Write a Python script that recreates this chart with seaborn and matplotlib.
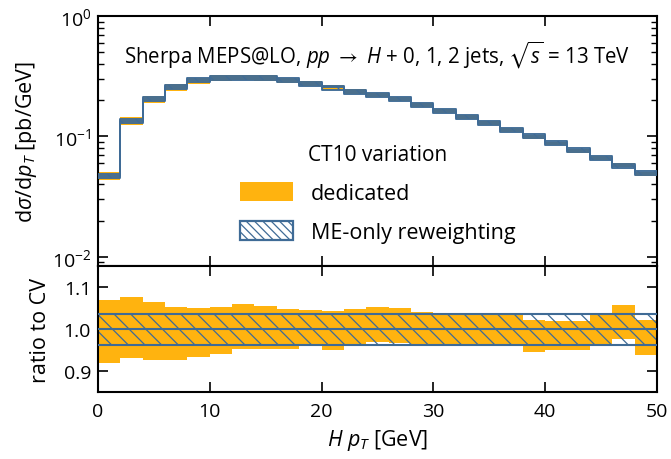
import matplotlib
matplotlib.use('Agg')
import matplotlib.pyplot as plt
import seaborn as sns
from matplotlib.patches import Patch
from matplotlib.ticker import LogLocator, NullFormatter, FixedLocator, NullLocator

# ---------------- data ----------------
bin_edges = [0, 2, 4, 6, 8, 10, 12, 14, 16, 18, 20, 22, 24, 26, 28, 30,
             32, 34, 36, 38, 40, 42, 44, 46, 48, 50]

central_xs = [0.047, 0.134, 0.204, 0.259, 0.293, 0.308, 0.308, 0.305, 0.293,
              0.275, 0.255, 0.236, 0.220, 0.204, 0.182, 0.163, 0.146, 0.130,
              0.113, 0.101, 0.0886, 0.0769, 0.0664, 0.0573, 0.0498]

dedicated_up = [1.068, 1.075, 1.065, 1.052, 1.050, 1.053, 1.059, 1.054, 1.048,
                1.046, 1.042, 1.048, 1.052, 1.050, 1.040, 1.035, 1.034, 1.038,
                1.034, 1.022, 1.018, 1.018, 1.035, 1.057, 1.021]
dedicated_down = [0.920, 0.930, 0.927, 0.925, 0.934, 0.941, 0.953, 0.953, 0.952,
                  0.961, 0.951, 0.961, 0.969, 0.967, 0.962, 0.962, 0.962, 0.962,
                  0.962, 0.946, 0.951, 0.951, 0.962, 0.977, 0.939]

meonly_up = [1.036, 1.036, 1.036, 1.036, 1.036, 1.036, 1.036, 1.036, 1.036,
             1.036, 1.036, 1.036, 1.036, 1.036, 1.036, 1.036, 1.036, 1.036,
             1.036, 1.036, 1.036, 1.036, 1.036, 1.036, 1.036]
meonly_down = [0.962, 0.962, 0.962, 0.962, 0.962, 0.962, 0.962, 0.962, 0.962,
               0.962, 0.962, 0.962, 0.962, 0.962, 0.962, 0.962, 0.962, 0.962,
               0.962, 0.962, 0.962, 0.962, 0.962, 0.962, 0.962]

title_text = (r"Sherpa MEPS@LO, $pp$ $\rightarrow$ $H$ + 0, 1, 2 jets, "
              r"$\sqrt{s}$ = 13 TeV")
legend_title = "CT10 variation"
legend_labels = ["dedicated", "ME-only reweighting"]
ylabel_top = r"d$\sigma$/d$p_T$ [pb/GeV]"
ylabel_bottom = "ratio to CV"
xlabel = r"$H$ $p_T$ [GeV]"

ORANGE = "#FFB30F"
BLUE = "#3F6B96"

# ---------------- style ----------------
sns.set_style("ticks")
plt.rcParams.update({
    "font.family": ["Open Sans", "DejaVu Sans"],
    "mathtext.fontset": "custom",
    "mathtext.rm": "Open Sans",
    "mathtext.it": "Open Sans:italic",
    "mathtext.bf": "Open Sans:bold",
    "mathtext.fallback": "stix",
    "font.size": 15,
    "text.color": "black",
    "axes.labelcolor": "black",
    "xtick.labelcolor": "black",
    "ytick.labelcolor": "black",
    "xtick.direction": "in",
    "ytick.direction": "in",
    "xtick.top": True,
    "ytick.right": True,
    "xtick.major.size": 7,
    "ytick.major.size": 7,
    "xtick.minor.size": 4.5,
    "ytick.minor.size": 4.5,
    "xtick.major.width": 1.2,
    "ytick.major.width": 1.2,
    "ytick.minor.width": 1.0,
    "xtick.major.pad": 7,
    "ytick.major.pad": 5,
    "axes.linewidth": 1.5,
    "axes.edgecolor": "black",
    "xtick.color": "black",
    "ytick.color": "black",
    "xtick.labelsize": 14,
    "ytick.labelsize": 14,
    "hatch.linewidth": 0.9,
    "hatch.color": BLUE,
})

fig = plt.figure(figsize=(6.71, 4.60), dpi=100)
ax1 = fig.add_axes([0.146, 0.4196, 0.833, 0.5434])
ax2 = fig.add_axes([0.146, 0.1457, 0.833, 0.2739], sharex=ax1)


def ext(v):
    return list(v) + [v[-1]]


one = [1.0] * len(central_xs)

panels = [
    (ax1, central_xs, 1.35),
    (ax2, one, 1.5),
]
for ax, base, lw in panels:
    d_lo = [b * r for b, r in zip(base, dedicated_down)]
    d_hi = [b * r for b, r in zip(base, dedicated_up)]
    m_lo = [b * r for b, r in zip(base, meonly_down)]
    m_hi = [b * r for b, r in zip(base, meonly_up)]
    ax.fill_between(bin_edges, ext(d_lo), ext(d_hi), step="post",
                    facecolor=ORANGE, edgecolor="none", lw=0, zorder=1)
    ax.fill_between(bin_edges, ext(m_lo), ext(m_hi), step="post",
                    facecolor="none", edgecolor=BLUE, hatch="\\\\", lw=0,
                    zorder=2)
    for arr in (m_lo, m_hi, base):
        sns.lineplot(x=bin_edges, y=ext(arr), drawstyle="steps-post",
                     color=BLUE, lw=lw, ax=ax, estimator=None, sort=False,
                     zorder=3)

# top panel
ax1.set_yscale("log")
ax1.set_ylim(8.4e-3, 1.0)
ax1.set_xlim(0, 50)
ax1.yaxis.set_major_locator(LogLocator(base=10, numticks=10))
ax1.yaxis.set_minor_locator(LogLocator(base=10, subs=range(2, 10), numticks=20))
ax1.yaxis.set_minor_formatter(NullFormatter())
ax1.xaxis.set_major_locator(FixedLocator([0, 10, 20, 30, 40, 50]))
ax1.xaxis.set_minor_locator(NullLocator())
ax1.tick_params(axis="x", labelbottom=False)
ax1.set_xlabel("")
ax1.set_ylabel(ylabel_top, fontsize=15.5, labelpad=9)
ax1.text(0.5, 0.848, title_text, transform=ax1.transAxes, ha="center",
         va="center", fontsize=14.8)

handles = [
    Patch(facecolor=ORANGE, edgecolor="none", label=legend_labels[0]),
    Patch(facecolor="none", edgecolor=BLUE, hatch="\\\\\\\\", lw=1.6,
          label=legend_labels[1]),
]
leg = ax1.legend(handles=handles, title=legend_title, loc="center",
                 bbox_to_anchor=(0.5, 0.29), frameon=False, handlelength=2.5,
                 handleheight=1.0, labelspacing=0.8, handletextpad=0.8,
                 fontsize=15.5, title_fontsize=15)

# ratio panel
ax2.set_ylim(0.85, 1.15)
ax2.yaxis.set_major_locator(FixedLocator([0.9, 1.0, 1.1]))
ax2.yaxis.set_minor_locator(NullLocator())
ax2.set_yticklabels(["0.9", "1.0", "1.1"])
ax2.xaxis.set_major_locator(FixedLocator([0, 10, 20, 30, 40, 50]))
ax2.set_xticklabels(["0", "10", "20", "30", "40", "50"])
ax2.xaxis.set_minor_locator(NullLocator())
ax2.set_xlim(0, 50)
ax2.set_xlabel(xlabel, fontsize=15.5, labelpad=5)
ax2.set_ylabel(ylabel_bottom, fontsize=15.5, labelpad=9)

fig.align_ylabels([ax1, ax2])
fig.savefig("out.png", dpi=100)
